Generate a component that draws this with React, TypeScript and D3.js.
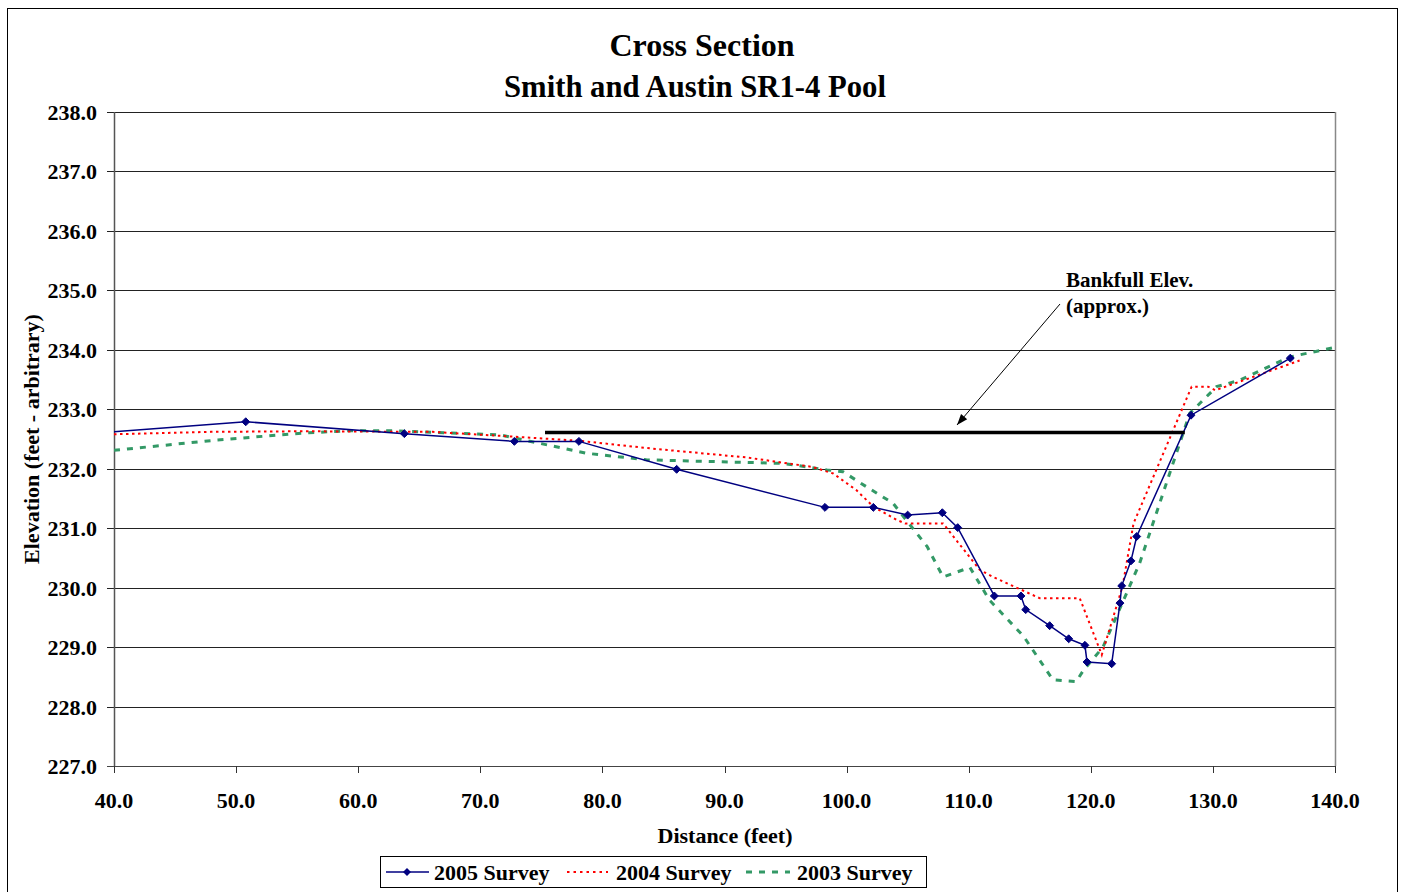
import React, { useEffect, useRef } from "react";
import * as d3 from "d3";

const title1 = "Cross Section";
const title2 = "Smith and Austin SR1-4 Pool";
const xTitle = "Distance (feet)";
const yTitle = "Elevation (feet - arbitrary)";
const xTicks = [40, 50, 60, 70, 80, 90, 100, 110, 120, 130, 140];
const yTicks = [227, 228, 229, 230, 231, 232, 233, 234, 235, 236, 237, 238];

const survey2005X = [38.5, 50.79, 63.78, 72.79, 78.08, 86.08, 98.23, 102.19, 105.0, 107.84, 109.1, 112.1, 114.28, 114.67, 116.63, 118.19, 119.52, 119.69, 121.71, 122.39, 122.53, 123.29, 123.76, 128.21, 136.34];
const survey2005Y = [232.6, 232.79, 232.59, 232.46, 232.46, 231.99, 231.35, 231.35, 231.22, 231.26, 231.01, 229.86, 229.86, 229.63, 229.36, 229.14, 229.03, 228.75, 228.72, 229.74, 230.03, 230.45, 230.86, 232.9, 233.86];

const survey2004X = [40, 47.9, 55.5, 66.1, 72.7, 78.1, 84.0, 91.8, 97.2, 98.9, 100.8, 102.2, 104.1, 104.8, 107.9, 110.9, 112.0, 115.84, 119.1, 120.9, 122.6, 123.5, 128.26, 129.6, 130.2, 137.1];
const survey2004Y = [232.58, 232.62, 232.63, 232.62, 232.54, 232.47, 232.34, 232.19, 232.03, 231.92, 231.64, 231.36, 231.14, 231.08, 231.08, 230.3, 230.18, 229.82, 229.82, 228.87, 230.02, 231.08, 233.38, 233.38, 233.32, 233.82];

const survey2003X = [40, 48.3, 55.5, 59.3, 62.8, 71.6, 78.7, 83.6, 87.2, 94.8, 98.4, 99.7, 101.6, 103.8, 106.6, 107.9, 110.1, 111.7, 114.5, 116.9, 118.8, 119.4, 121.0, 124.0, 128.1, 130.3, 132.2, 136.3, 140.2];
const survey2003Y = [232.31, 232.48, 232.6, 232.64, 232.64, 232.57, 232.26, 232.15, 232.13, 232.09, 231.98, 231.95, 231.7, 231.42, 230.69, 230.18, 230.34, 229.79, 229.18, 228.45, 228.42, 228.61, 229.0, 230.41, 232.93, 233.38, 233.49, 233.88, 234.05];

const bankfullX = [75.3, 127.7];
const bankfullY = [232.61, 232.61];
const annotationLines = ["Bankfull Elev.", "(approx.)"];
const legendLabels = ["2005 Survey", "2004 Survey", "2003 Survey"];

const FONT = "'Liberation Serif', 'Times New Roman', serif";

export default function App() {
  const ref = useRef<SVGSVGElement>(null);
  useEffect(() => {
    document.body.style.margin = "0";
    const svg = d3.select(ref.current);
    svg.selectAll("*").remove();
    const W = 1402, H = 892;
    const L = 114, R = 1335, T = 112, B = 766;
    const x = d3.scaleLinear().domain([40, 140]).range([L, R]);
    const y = d3.scaleLinear().domain([227, 238]).range([B, T]);

    svg.append("rect").attr("x", 0).attr("y", 0).attr("width", W).attr("height", H).attr("fill", "#fff");
    svg.append("rect").attr("x", 7.5).attr("y", 8.5).attr("width", 1390).attr("height", 900)
      .attr("fill", "none").attr("stroke", "#000").attr("stroke-width", 1);

    // titles
    svg.append("text").attr("x", 702).attr("y", 56).attr("text-anchor", "middle")
      .attr("font-family", FONT).attr("font-weight", "bold").attr("font-size", 32).text(title1);
    svg.append("text").attr("x", 695).attr("y", 97).attr("text-anchor", "middle")
      .attr("font-family", FONT).attr("font-weight", "bold").attr("font-size", 30.7).text(title2);

    // gridlines
    const g = svg.append("g");
    g.selectAll("line.grid").data(yTicks).enter().append("line")
      .attr("x1", L - 7).attr("x2", R).attr("y1", (d) => Math.round(y(d)) + 0.5).attr("y2", (d) => Math.round(y(d)) + 0.5)
      .attr("stroke", (d, i) => (i === 0 ? "#444" : "#222")).attr("stroke-width", 1);
    // right border of plot
    g.append("line").attr("x1", R + 0.5).attr("x2", R + 0.5).attr("y1", T).attr("y2", B)
      .attr("stroke", "#888").attr("stroke-width", 1.5);
    // y axis
    g.append("line").attr("x1", L + 0.5).attr("x2", L + 0.5).attr("y1", T).attr("y2", B + 1)
      .attr("stroke", "#555").attr("stroke-width", 1.5);
    // x ticks
    g.selectAll("line.xt").data(xTicks).enter().append("line")
      .attr("x1", (d) => Math.round(x(d)) + 0.5).attr("x2", (d) => Math.round(x(d)) + 0.5)
      .attr("y1", B).attr("y2", B + 7).attr("stroke", "#333");

    // tick labels
    g.selectAll("text.yl").data(yTicks).enter().append("text")
      .attr("x", 97).attr("y", (d) => y(d) + 8).attr("text-anchor", "end")
      .attr("font-family", FONT).attr("font-weight", "bold").attr("font-size", 22)
      .text((d) => d.toFixed(1));
    g.selectAll("text.xl").data(xTicks).enter().append("text")
      .attr("x", (d) => x(d)).attr("y", 808).attr("text-anchor", "middle")
      .attr("font-family", FONT).attr("font-weight", "bold").attr("font-size", 22)
      .text((d) => d.toFixed(1));

    svg.append("text").attr("x", 725).attr("y", 843).attr("text-anchor", "middle")
      .attr("font-family", FONT).attr("font-weight", "bold").attr("font-size", 22).text(xTitle);
    svg.append("text").attr("transform", "translate(39,439) rotate(-90)").attr("text-anchor", "middle")
      .attr("font-family", FONT).attr("font-weight", "bold").attr("font-size", 22).text(yTitle);

    // clip
    svg.append("defs").append("clipPath").attr("id", "plotclip").append("rect")
      .attr("x", L).attr("y", T - 5).attr("width", R - L + 5).attr("height", B - T + 10);

    const line = d3.line<[number, number]>().x((d) => x(d[0])).y((d) => y(d[1]));
    const plot = svg.append("g").attr("clip-path", "url(#plotclip)");

    const d2003 = survey2003X.map((v, i) => [v, survey2003Y[i]] as [number, number]);
    const d2004 = survey2004X.map((v, i) => [v, survey2004Y[i]] as [number, number]);
    const d2005 = survey2005X.map((v, i) => [v, survey2005Y[i]] as [number, number]);

    plot.append("path").attr("d", line(d2003)).attr("fill", "none").attr("stroke", "#339966")
      .attr("stroke-width", 3).attr("stroke-dasharray", "6,7");
    plot.append("path").attr("d", line(d2004)).attr("fill", "none").attr("stroke", "#ff0000")
      .attr("stroke-width", 2).attr("stroke-dasharray", "2.5,3.5");
    plot.append("path").attr("d", line(d2005)).attr("fill", "none").attr("stroke", "#000080")
      .attr("stroke-width", 1.5);
    const diamond = d3.symbol().type(d3.symbolDiamond2).size(40);
    plot.selectAll("path.m").data(d2005).enter().append("path")
      .attr("d", diamond()).attr("transform", (d) => `translate(${x(d[0])},${y(d[1])})`)
      .attr("fill", "#000080").attr("stroke", "#000080").attr("stroke-width", 1);

    // bankfull
    const bf = bankfullX.map((v, i) => [v, bankfullY[i]] as [number, number]);
    svg.append("path").attr("d", line(bf)).attr("stroke", "#000").attr("stroke-width", 3.5).attr("fill", "none");

    // annotation
    svg.append("text").attr("x", 1066).attr("y", 287).attr("font-family", FONT).attr("font-weight", "bold")
      .attr("font-size", 21).text(annotationLines[0]);
    svg.append("text").attr("x", 1066).attr("y", 313).attr("font-family", FONT).attr("font-weight", "bold")
      .attr("font-size", 21).text(annotationLines[1]);
    const ax1 = 1060, ay1 = 304, ax2 = 957, ay2 = 425;
    svg.append("line").attr("x1", ax1).attr("y1", ay1).attr("x2", ax2).attr("y2", ay2)
      .attr("stroke", "#000").attr("stroke-width", 1);
    const ang = Math.atan2(ay2 - ay1, ax2 - ax1);
    const hl = 11, hw = 4;
    const bx = ax2 - hl * Math.cos(ang), by = ay2 - hl * Math.sin(ang);
    svg.append("path").attr("d", `M${ax2},${ay2} L${bx + hw * Math.sin(ang)},${by - hw * Math.cos(ang)} L${bx - hw * Math.sin(ang)},${by + hw * Math.cos(ang)} Z`)
      .attr("fill", "#000");

    // legend
    const lg = svg.append("g");
    lg.append("rect").attr("x", 380.5).attr("y", 856.5).attr("width", 546).attr("height", 31)
      .attr("fill", "#fff").attr("stroke", "#000").attr("stroke-width", 1);
    const ly = 872;
    lg.append("line").attr("x1", 386).attr("x2", 429).attr("y1", ly).attr("y2", ly).attr("stroke", "#000080").attr("stroke-width", 1.5);
    lg.append("path").attr("d", diamond()).attr("transform", `translate(407,${ly})`).attr("fill", "#000080");
    lg.append("line").attr("x1", 567).attr("x2", 608).attr("y1", ly).attr("y2", ly).attr("stroke", "#ff0000")
      .attr("stroke-width", 2).attr("stroke-dasharray", "2.5,4");
    lg.append("line").attr("x1", 746).attr("x2", 790).attr("y1", ly).attr("y2", ly).attr("stroke", "#339966")
      .attr("stroke-width", 3).attr("stroke-dasharray", "6,7");
    const lx = [434, 616, 797];
    lg.selectAll("text.lt").data(legendLabels).enter().append("text")
      .attr("x", (d, i) => lx[i]).attr("y", ly + 8).attr("font-family", FONT).attr("font-weight", "bold")
      .attr("font-size", 22).text((d) => d);
  }, []);
  return <svg ref={ref} width={1402} height={892} style={{ display: "block" }} />;
}
